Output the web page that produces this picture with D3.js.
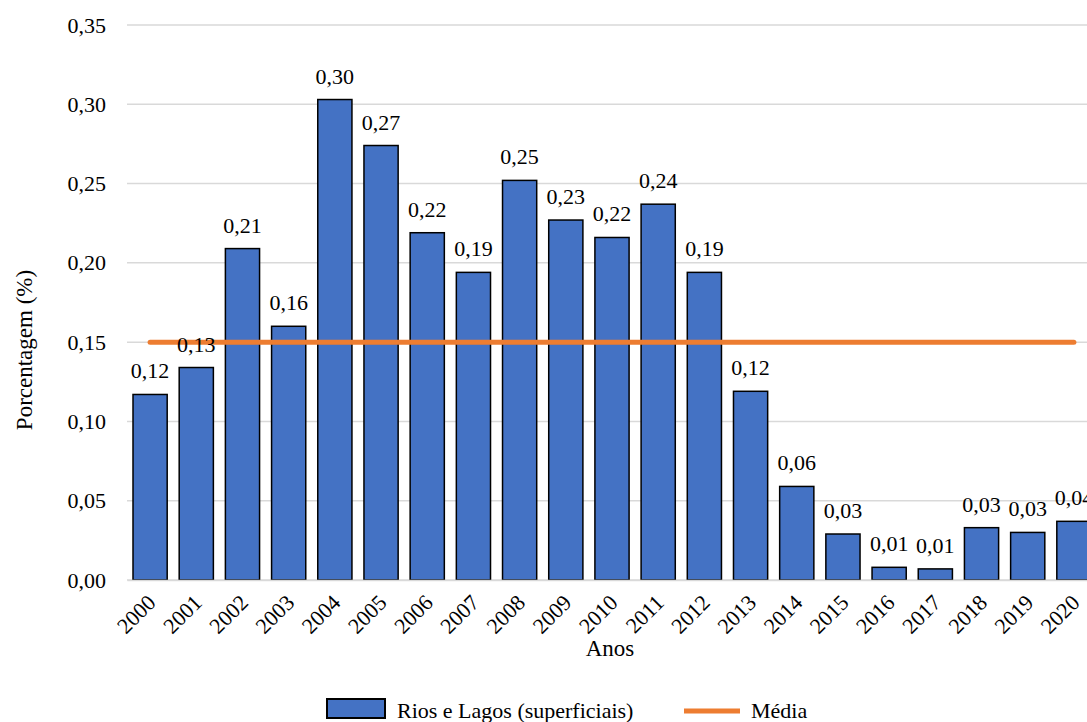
<!DOCTYPE html>
<html>
<head>
<meta charset="utf-8">
<script src="https://cdn.jsdelivr.net/npm/d3@7"></script>
<style>
  html, body { margin: 0; padding: 0; background: #ffffff; }
  svg { display: block; }
  svg text { fill: #000; }
</style>
</head>
<body>
<svg id="chart" width="1087" height="722"></svg>
<script>
// Anos e porcentagem de área de rios e lagos
const anos = ["2000","2001","2002","2003","2004","2005","2006","2007","2008","2009","2010",
              "2011","2012","2013","2014","2015","2016","2017","2018","2019","2020"];
const rios = [0.117,0.134,0.209,0.160,0.303,0.274,0.219,0.194,0.252,0.227,0.216,
              0.237,0.194,0.119,0.059,0.029,0.008,0.007,0.033,0.030,0.037];
const media = 0.15;
const yTicks = [0, 0.05, 0.10, 0.15, 0.20, 0.25, 0.30, 0.35];

const svg = d3.select("#chart");
const plotLeft = 127, plotRight = 1097, plotTop = 25, plotBottom = 580;
const serif = "Times New Roman, Liberation Serif, DejaVu Serif, serif";

const x = d3.scaleBand().domain(anos).range([plotLeft, plotRight])
  .paddingInner(0.26).paddingOuter(0.13);
const y = d3.scaleLinear().domain([0, 0.35]).range([plotBottom, plotTop]);

const fmt = v => d3.format(".2f")(v).replace(".", ",");
const fs = 22;

// grade horizontal
svg.append("g").selectAll("line").data(yTicks).join("line")
  .attr("x1", plotLeft).attr("x2", 1087)
  .attr("y1", d => y(d)).attr("y2", d => y(d))
  .attr("stroke", "#d9d9d9").attr("stroke-width", 1.5);

// eixo Y
const yAxis = svg.append("g").attr("transform", `translate(${plotLeft},0)`)
  .call(d3.axisLeft(y).tickValues(yTicks).tickFormat(fmt).tickSize(0).tickPadding(21));
yAxis.attr("font-family", serif).attr("font-size", fs);
yAxis.select(".domain").remove();

// barras
svg.append("g").selectAll("rect").data(rios).join("rect")
  .attr("x", (d, i) => x(anos[i]))
  .attr("y", d => y(d))
  .attr("width", x.bandwidth())
  .attr("height", d => y(0) - y(d))
  .attr("fill", "#4472c4")
  .attr("stroke", "#000").attr("stroke-width", 1.5);

// linha da média
svg.append("line")
  .attr("x1", x(anos[0]) + x.bandwidth() / 2)
  .attr("x2", x(anos[anos.length - 1]) + x.bandwidth() / 2)
  .attr("y1", y(media)).attr("y2", y(media))
  .attr("stroke", "#ed7d31").attr("stroke-width", 5).attr("stroke-linecap", "round");

// eixo X
const xAxis = svg.append("g").attr("transform", `translate(0,${plotBottom})`)
  .call(d3.axisBottom(x).tickSize(0).tickPadding(0));
xAxis.attr("font-family", serif).attr("font-size", fs);
xAxis.select(".domain").attr("stroke", "#d9d9d9").attr("stroke-width", 1.5);
xAxis.selectAll("text")
  .attr("text-anchor", "end")
  .attr("dy", null)
  .attr("transform", "translate(7,24) rotate(-45)");

// rótulos de valor
svg.append("g").attr("font-family", serif).attr("font-size", fs)
  .selectAll("text").data(rios).join("text")
  .attr("x", (d, i) => x(anos[i]) + x.bandwidth() / 2)
  .attr("y", d => y(d) - 16)
  .attr("text-anchor", "middle")
  .text(d => fmt(d));

// títulos dos eixos
const titles = svg.append("g").attr("font-family", serif).attr("font-size", 23);
titles.append("text")
  .attr("x", (plotLeft + plotRight) / 2 - 2).attr("y", 656)
  .attr("text-anchor", "middle").text("Anos");
titles.append("text")
  .attr("transform", "translate(32,350) rotate(-90)")
  .attr("text-anchor", "middle").text("Porcentagem (%)");

// legenda
const lg = svg.append("g").attr("font-family", serif).attr("font-size", fs);
lg.append("rect").attr("x", 327).attr("y", 699).attr("width", 58).attr("height", 19)
  .attr("fill", "#4472c4").attr("stroke", "#000").attr("stroke-width", 2);
lg.append("text").attr("x", 397).attr("y", 718).text("Rios e Lagos (superficiais)");
lg.append("line").attr("x1", 684).attr("x2", 740).attr("y1", 711).attr("y2", 711)
  .attr("stroke", "#ed7d31").attr("stroke-width", 5);
lg.append("text").attr("x", 751).attr("y", 718).text("Média");
</script>
</body>
</html>
